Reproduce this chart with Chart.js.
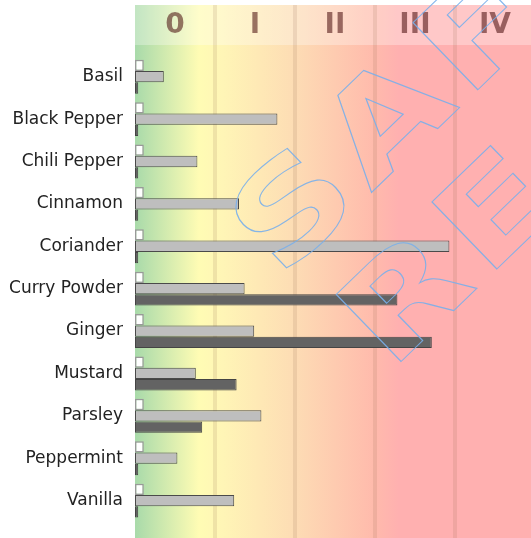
<!DOCTYPE html>
<html>
<head>
<meta charset="utf-8">
<script src="https://cdn.jsdelivr.net/npm/chart.js@4"></script>
<style>
  body { margin: 0; background: #fff; overflow: hidden; }
</style>
</head>
<body>
<canvas id="spices" width="531" height="544"></canvas>
<script>
// spices and measured values (in hazard-class units)
const spices = ['Basil', 'Black Pepper', 'Chili Pepper', 'Cinnamon', 'Coriander',
  'Curry Powder', 'Ginger', 'Mustard', 'Parsley', 'Peppermint', 'Vanilla'];
const seriesA = [0.11, 0.11, 0.11, 0.11, 0.11, 0.11, 0.11, 0.11, 0.11, 0.11, 0.11];
const seriesB = [0.36, 1.78, 0.78, 1.30, 3.93, 1.37, 1.49, 0.76, 1.58, 0.53, 1.24];
const seriesC = [0.04, 0.04, 0.04, 0.04, 0.04, 3.28, 3.71, 1.27, 0.84, 0.04, 0.04];
const zones = ['0', 'I', 'II', 'III', 'IV'];

const zoneBg = {
  id: 'zoneBg',
  beforeDraw(chart) {
    const ctx = chart.ctx;
    const x = chart.scales.x;
    const area = chart.chartArea;
    const top = 5, bottom = chart.height;
    const g = ctx.createLinearGradient(area.left, 0, area.right, 0);
    const stop = (v, c) => g.addColorStop((x.getPixelForValue(v) - area.left) / (area.right - area.left), c);
    stop(0, 'rgb(168,218,170)');
    stop(0.8, 'rgb(255,252,180)');
    stop(1.1, 'rgb(255,245,182)');
    stop(2, 'rgb(253,220,180)');
    stop(3, 'rgb(255,186,172)');
    stop(3.3, 'rgb(255,176,176)');
    stop(4.95, 'rgb(255,176,176)');
    ctx.save();
    ctx.fillStyle = g;
    ctx.fillRect(area.left, top, area.right - area.left, bottom - top);
    // lighter header band
    ctx.fillStyle = 'rgba(255,255,255,0.3)';
    ctx.fillRect(area.left, top, area.right - area.left, 40);
    // zone separators
    ctx.strokeStyle = 'rgba(150,110,80,0.15)';
    ctx.lineWidth = 4;
    for (let i = 1; i < zones.length; i++) {
      const px = x.getPixelForValue(i);
      ctx.beginPath();
      ctx.moveTo(px, top);
      ctx.lineTo(px, bottom);
      ctx.stroke();
    }
    ctx.fillStyle = 'rgba(70,10,10,0.55)';
    ctx.font = 'bold 28px "DejaVu Sans"';
    ctx.textAlign = 'center';
    ctx.textBaseline = 'middle';
    zones.forEach((z, i) => {
      ctx.fillText(z, x.getPixelForValue(i + 0.5), 26);
    });
    ctx.restore();
  },
  afterDatasetsDraw(chart) {
    // outlined watermark
    const ctx = chart.ctx;
    ctx.save();
    ctx.translate(281, 280);
    ctx.rotate(-44 * Math.PI / 180);
    ctx.scale(1.25, 1);
    ctx.font = 'bold 128px "DejaVu Sans"';
    ctx.letterSpacing = '8px';
    ctx.textBaseline = 'alphabetic';
    ctx.strokeStyle = 'rgba(120,175,235,0.9)';
    ctx.lineWidth = 1;
    ctx.strokeText('SAFE', 0, 0);
    ctx.strokeText('RE', 12, 142);
    ctx.restore();
  }
};

new Chart(document.getElementById('spices'), {
  type: 'bar',
  data: {
    labels: spices,
    datasets: [
      { data: seriesA, backgroundColor: '#ffffff', borderColor: '#999999', borderWidth: 1.5, borderSkipped: false },
      { data: seriesB, backgroundColor: '#bebebe', borderColor: '#4a4a4a', borderWidth: 1, borderSkipped: false },
      { data: seriesC, backgroundColor: '#636363', borderColor: '#444444', borderWidth: 1, borderSkipped: false }
    ]
  },
  options: {
    indexAxis: 'y',
    responsive: false,
    animation: false,
    categoryPercentage: 0.8,
    barPercentage: 1,
    layout: { padding: { top: 55.5, bottom: 0, left: 0, right: 0 } },
    plugins: { legend: { display: false }, tooltip: { enabled: false } },
    scales: {
      x: { display: false, min: 0, max: 4.95 },
      y: {
        grid: { display: false, drawTicks: false },
        border: { display: false },
        ticks: { color: '#222', padding: 12, font: { family: 'DejaVu Sans', size: 17 } },
        afterFit(scale) { scale.width = 135; }
      }
    }
  },
  plugins: [zoneBg]
});
</script>
</body>
</html>
